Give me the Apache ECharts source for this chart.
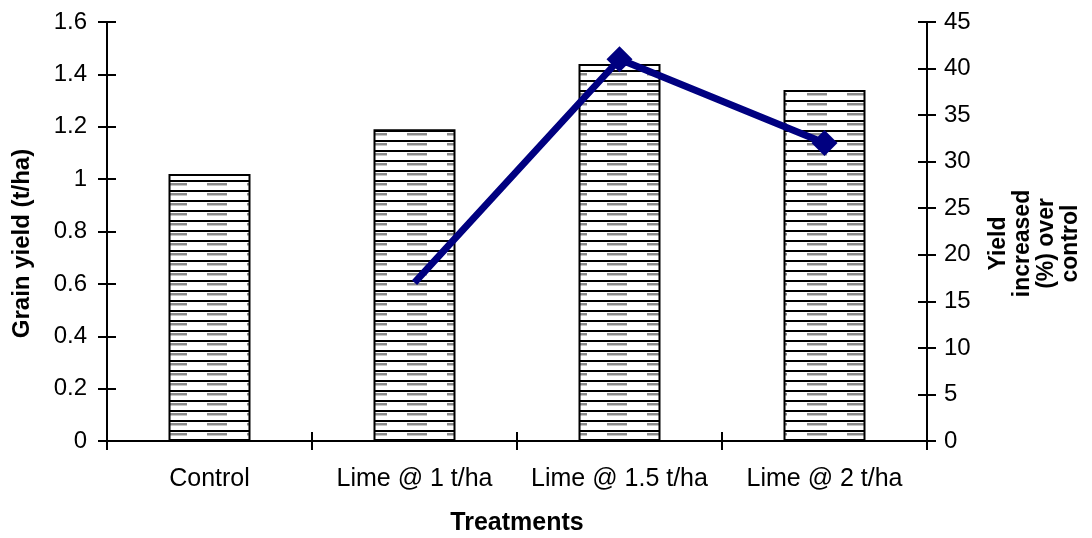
<!DOCTYPE html>
<html><head><meta charset="utf-8">
<script src="https://cdn.jsdelivr.net/npm/echarts@6/dist/echarts.min.js"></script>
<style>html,body{margin:0;padding:0;background:#fff}#c{width:1092px;height:538px}</style>
</head><body><div id="c"></div>
<script>
const categories = ['Control', 'Lime @ 1 t/ha', 'Lime @ 1.5 t/ha', 'Lime @ 2 t/ha'];
const grainYield = [1.02, 1.19, 1.44, 1.34];
const yieldIncrease = [null, 17, 41, 32];
const showMarker = [false, false, true, true];
const leftTicks = { min: 0, max: 1.6, interval: 0.2 };
const rightTicks = { min: 0, max: 45, interval: 5 };

// hatch pattern
const pc = document.createElement('canvas');
pc.width = 40; pc.height = 10;
const px = pc.getContext('2d');
px.fillStyle = '#fff'; px.fillRect(0, 0, 40, 10);
px.fillStyle = '#000'; px.fillRect(0, 0, 40, 2);
px.fillStyle = '#8c8c8c'; px.fillRect(7, 3, 20, 2);
px.fillStyle = '#c8c8c8'; px.fillRect(7, 5, 20, 1);

const FONT = 'Liberation Sans, Arial, sans-serif';
const chart = echarts.init(document.getElementById('c'));
const tickStyle = { color: '#000', width: 2 };
const yBase = (pos, r, extra) => Object.assign({
  type: 'value', position: pos, min: r.min, max: r.max, interval: r.interval,
  splitLine: { show: false }
}, extra);

chart.setOption({
  animation: false,
  backgroundColor: '#fff',
  grid: { left: 107, right: 165, top: 22, bottom: 97, containLabel: false, outerBoundsMode: 'none' },
  xAxis: [
    { type: 'category', data: categories, position: 'bottom',
      axisLine: { lineStyle: { color: '#000', width: 2 } },
      axisTick: { show: true, length: 9, lineStyle: tickStyle },
      axisLabel: { color: '#000', fontSize: 25, fontFamily: FONT, margin: 26, interval: 0, hideOverlap: false },
      name: 'Treatments', nameLocation: 'middle', nameGap: 70,
      nameTextStyle: { color: '#000', fontSize: 25, fontWeight: 'bold', fontFamily: FONT } },
    { type: 'category', data: categories, position: 'bottom',
      axisLine: { show: false },
      axisTick: { show: true, inside: true, length: 9, lineStyle: tickStyle },
      axisLabel: { show: false } }
  ],
  yAxis: [
    yBase('left', leftTicks, {
      axisLine: { show: true, lineStyle: { color: '#000', width: 2 } },
      axisTick: { show: true, length: 9, lineStyle: tickStyle },
      axisLabel: { color: '#000', fontSize: 24, fontFamily: FONT, margin: 20 },
      name: 'Grain yield (t/ha)', nameLocation: 'middle', nameGap: 73, nameRotate: 90,
      nameTextStyle: { color: '#000', fontSize: 24, fontWeight: 'bold', fontFamily: FONT, padding: [0, 24, 0, 0] } }),
    yBase('right', rightTicks, {
      axisLine: { show: true, lineStyle: { color: '#000', width: 2 } },
      axisTick: { show: true, length: 9, lineStyle: tickStyle },
      axisLabel: { color: '#000', fontSize: 24, fontFamily: FONT, margin: 17 },
      name: 'Yield\nincreased\n(%) over\ncontrol', nameLocation: 'middle', nameGap: 60, nameRotate: 90,
      nameTextStyle: { color: '#000', fontSize: 23, fontWeight: 'bold', fontFamily: FONT, lineHeight: 24, align: 'center', padding: [0, 24, 0, 0] } }),
    yBase('left', leftTicks, {
      axisLine: { show: false },
      axisTick: { show: true, inside: true, length: 9, lineStyle: tickStyle },
      axisLabel: { show: false } }),
    yBase('right', rightTicks, {
      axisLine: { show: false },
      axisTick: { show: true, inside: true, length: 9, lineStyle: tickStyle },
      axisLabel: { show: false } })
  ],
  series: [
    { type: 'bar', data: grainYield, xAxisIndex: 0, yAxisIndex: 0, barWidth: 82,
      itemStyle: { color: { image: pc, repeat: 'repeat' }, borderColor: '#000', borderWidth: 2 } },
    { type: 'line', xAxisIndex: 0, yAxisIndex: 1,
      data: yieldIncrease.map((v, i) => ({ value: v, symbolSize: showMarker[i] ? [26, 26] : 0 })),
      symbol: 'diamond', showSymbol: true, connectNulls: false,
      lineStyle: { color: '#000080', width: 7 },
      itemStyle: { color: '#000080' } }
  ]
});
</script>
</body></html>
